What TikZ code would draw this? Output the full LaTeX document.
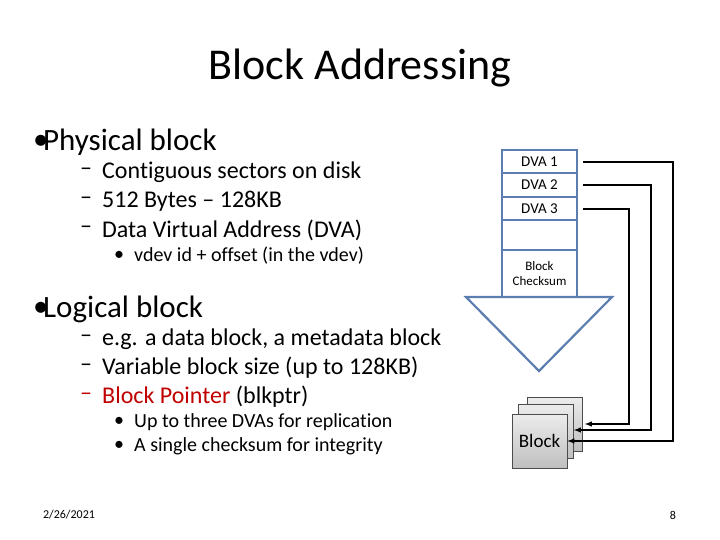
\documentclass[tikz,border=0pt]{standalone}
\usepackage{fontspec}
\setmainfont{Carlito}[Ligatures=NoCommon]
\definecolor{slateblue}{HTML}{5B7DB0}
\definecolor{ptrred}{HTML}{C00000}
\begin{document}
\begin{tikzpicture}[x=1pt,y=-1pt,
  txt/.style={anchor=west,inner sep=0pt},
  lvl1/.style={txt,font=\fontsize{31}{34}\selectfont},
  lvl2/.style={txt,font=\fontsize{24}{28}\selectfont},
  lvl3/.style={txt,font=\fontsize{20}{24}\selectfont},
  cell/.style={draw=slateblue,line width=2.2pt,minimum width=75pt,inner sep=0pt,outer sep=0pt,font=\fontsize{15}{16}\selectfont},
  card/.style={draw=black!70,line width=0.6pt,top color=gray!15,bottom color=gray!50,minimum width=55pt,minimum height=54pt,inner sep=0pt},
  wire/.style={line width=1.4pt},
  ptr/.style={wire,-latex}]
\useasboundingbox (0,0) rectangle (720,540);
\node[font=\fontsize{44}{48}\selectfont] (title) at (360,68) {Block Addressing};
% left text
\node[lvl1] (m1) at (33,142) {•}; \node[lvl1] (b1) at (43,142) {Physical block};
\node[lvl2] (m11) at (80,172) {–}; \node[lvl2] (b11) at (102,172) {Contiguous sectors on disk};
\node[lvl2] (m12) at (80,201) {–}; \node[lvl2] (b12) at (102,201) {512 Bytes – 128KB};
\node[lvl2] (m13) at (80,230) {–}; \node[lvl2] (b13) at (102,230) {Data Virtual Address (DVA)};
\node[lvl3] (m131) at (114,256) {•}; \node[lvl3] (b131) at (134,256) {vdev id + offset (in the vdev)};
\node[lvl1] (m2) at (33,309) {•}; \node[lvl1] (b2) at (43,309) {Logical block};
\node[lvl2] (m21) at (80,339) {–}; \node[lvl2] (b21) at (102,339) {e.g. a data block, a metadata block};
\node[lvl2] (m22) at (80,368) {–}; \node[lvl2] (b22) at (102,368) {Variable block size (up to 128KB)};
\node[lvl2,text=ptrred] (m23) at (80,397) {–}; \node[lvl2,text=ptrred] (b23) at (102,397) {Block Pointer \textcolor{black}{(blkptr)}};
\node[lvl3] (m231) at (114,422) {•}; \node[lvl3] (b231) at (134,422) {Up to three DVAs for replication};
\node[lvl3] (m232) at (114,446) {•}; \node[lvl3] (b232) at (134,446) {A single checksum for integrity};
\node[font=\fontsize{12}{14}\selectfont] (date) at (69,515) {2/26/2021};
\node[font=\fontsize{12}{14}\selectfont] (page) at (673,515) {8};
% block pointer arrow
\draw[slateblue,line width=2.2pt,fill=white,line join=miter] (502,297) -- (466,297) -- (539,371) -- (612,297) -- (577,297) -- cycle;
\node[cell,minimum height=23pt] (d1) at (539.5,161.5) {DVA 1};
\node[cell,minimum height=24pt,anchor=north] (d2) at (d1.south) {DVA 2};
\node[cell,minimum height=23pt,anchor=north] (d3) at (d2.south) {DVA 3};
\node[cell,minimum height=30pt,anchor=north] (d4) at (d3.south) {};
\node[cell,minimum height=47pt,anchor=north,align=center,font=\fontsize{13}{15}\selectfont] (cs) at (d4.south) {Block\\Checksum};
% blocks
\node[card] (k3) at (555,424) {};
\node[card] (k2) at (546,431) {};
\node[card,font=\fontsize{19}{21}\selectfont] (k1) at (539.5,441) {Block};
% wires
\coordinate (a1) at (583,162); \coordinate (c1) at (673,162);
\coordinate (a2) at (583,185); \coordinate (c2) at (651,185);
\coordinate (a3) at (583,209); \coordinate (c3) at (629,209);
\draw[ptr] (a1) -- (c1) |- (k1.east);
\draw[ptr] (a2) -- (c2) |- ([yshift=1pt]k2.east);
\draw[ptr] (a3) -- (c3) |- ([xshift=2pt]k3.east);
\end{tikzpicture}
\end{document}
